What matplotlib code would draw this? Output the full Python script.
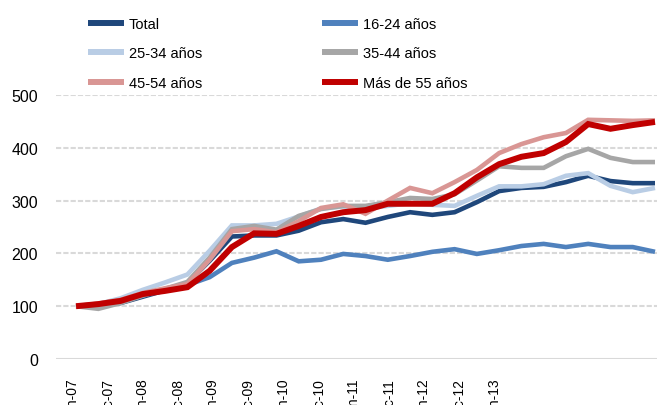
import numpy as np
import matplotlib
matplotlib.use("Agg")
import matplotlib.pyplot as plt
from matplotlib import font_manager

# datos (índice base 100), trimestrales
total = [100, 101, 106, 118, 130, 144, 186, 232, 234, 234, 243, 259, 265,
         258, 269, 278, 273, 278, 297, 318, 324, 326, 335, 347, 337, 333, 333]
jov_16_24 = [100, 100, 108, 120, 131, 140, 155, 182, 192, 204, 185, 188, 199,
             195, 188, 195, 203, 208, 199, 206, 214, 218, 212, 218, 212, 212, 203]
g_25_34 = [100, 104, 115, 131, 145, 160, 205, 253, 253, 256, 270, 285, 289,
           285, 290, 295, 292, 290, 309, 327, 327, 331, 347, 352, 328, 316, 324]
g_35_44 = [100, 95, 106, 120, 133, 146, 192, 246, 252, 245, 271, 284, 290,
           290, 297, 305, 303, 312, 338, 365, 362, 362, 384, 398, 381, 373, 373]
g_45_54 = [100, 105, 112, 125, 134, 142, 188, 242, 246, 240, 261, 286, 293,
           275, 300, 324, 314, 335, 358, 390, 407, 420, 428, 453, 452, 451, 452]
mas_55 = [100, 104, 110, 123, 129, 136, 167, 212, 238, 237, 252, 269, 278,
          282, 294, 294, 294, 314, 344, 369, 383, 390, 411, 445, 436, 443, 449]

series = [
    ("Total", total, "#1f477b", 3.3),
    ("16-24 años", jov_16_24, "#4f81bd", 3.3),
    ("25-34 años", g_25_34, "#b9cde5", 3.3),
    ("35-44 años", g_35_44, "#a6a6a6", 3.3),
    ("45-54 años", g_45_54, "#d99694", 3.3),
    ("Más de 55 años", mas_55, "#c00000", 4.3),
]

tick_labels = ["jun-07", "dic-07", "jun-08", "dic-08", "jun-09", "dic-09", "jun-10",
               "dic-10", "jun-11", "dic-11", "jun-12", "dic-12", "jun-13"]

installed = {f.name for f in font_manager.fontManager.ttflist}
base_font = "Liberation Sans" if "Liberation Sans" in installed else "DejaVu Sans"
plt.rcParams["font.family"] = [base_font, "DejaVu Sans"]

W, H = 657, 406
fig = plt.figure(figsize=(W / 100, H / 100), dpi=100)
ax = fig.add_axes([56 / W, 1 - 360 / H, 1 - 56 / W, (360 - 96) / H])

x = np.arange(len(total))
handles = []
for label, vals, color, lw in series:
    (ln,) = ax.plot(x, vals, color=color, lw=lw, label=label,
                    solid_joinstyle="miter", solid_capstyle="butt")
    handles.append(ln)

ax.set_xlim(-0.9, len(total) - 1 + 0.09)
ax.set_ylim(0, 500)
ax.set_yticks([0, 100, 200, 300, 400, 500])
for v in [100, 200, 300, 400, 500]:
    ax.axhline(v, color="#d9d9d9", lw=1.5, ls=(0, (2.5, 1)), zorder=0)
ax.axhline(0, color="#d9d9d9", lw=1.5, zorder=0)

for s in ax.spines.values():
    s.set_visible(False)

tick_pos = np.linspace(-0.13, 18.81, len(tick_labels))
ax.set_xticks(tick_pos)
ax.set_xticklabels(tick_labels, rotation=90, fontsize=10)
ax.tick_params(axis="x", length=0, pad=14)
ax.tick_params(axis="y", length=0, pad=13, labelsize=11.5)

leg_kw = dict(frameon=False, handlelength=2.5, handletextpad=0.3,
              labelspacing=1.05, borderpad=0, borderaxespad=0, loc="upper left",
              prop={"size": 10.5})
leg1 = fig.legend([handles[0], handles[2], handles[4]],
                  [series[0][0], series[2][0], series[4][0]],
                  bbox_to_anchor=(88 / W, 1 - 18 / H), **leg_kw)
leg2 = fig.legend([handles[1], handles[3], handles[5]],
                  [series[1][0], series[3][0], series[5][0]],
                  bbox_to_anchor=(322 / W, 1 - 18 / H), **leg_kw)
for leg in (leg1, leg2):
    for h in leg.legend_handles:
        h.set_linewidth(4.3)

fig.savefig("out.png", dpi=100)
